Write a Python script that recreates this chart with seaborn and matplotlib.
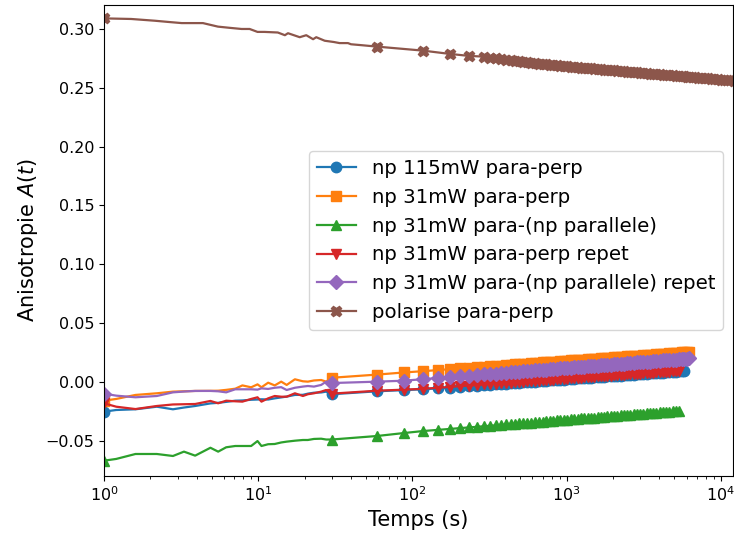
import matplotlib
matplotlib.use("Agg")
import matplotlib.pyplot as plt
import seaborn as sns

# time grid (s) shared by the "np" runs: 25 early points, then the marked points
t_np = [1, 1.2, 1.6, 2.2, 2.8, 3.3, 3.9, 4.9, 5.5, 6.2, 7.1, 7.9, 9.0, 9.9, 10.5,
        11.6, 12.8, 14.1, 15.3, 17.3, 19.5, 21, 23, 25.6, 27.6,
        30, 59, 88, 117, 146, 175, 204, 233, 262, 291,
        320, 349, 378, 407, 436, 465, 494, 523,
        556, 590, 624, 660, 699, 740, 779, 820,
        864, 910, 959, 1010, 1064, 1120, 1178, 1240,
        1303, 1370, 1438, 1510, 1588, 1670, 1753, 1840,
        1933, 2030, 2132, 2240, 2352, 2470, 2592, 2720,
        2857, 3000, 3146, 3300, 3466, 3640, 3821, 4010,
        4210, 4420, 4639, 4870, 5109, 5360, 5576, 5800,
        6026, 6260]

# time grid of the polarised run
t_pol = [1, 1.5, 2.14, 2.6, 3.19, 4.38, 5.48, 6.5, 7.8, 8.8, 9.9, 11, 13.4, 14.9,
         15.6, 18.6, 20.5, 22.7, 23.8, 27, 31, 33.7, 38.2, 40, 47,
         59, 117, 175, 233, 291,
         320, 349, 378, 407, 436, 465, 494, 523,
         556, 590, 624, 660, 699, 740, 779, 820,
         864, 910, 959, 1010, 1064, 1120, 1178, 1240,
         1303, 1370, 1438, 1510, 1588, 1670, 1753, 1840,
         1933, 2030, 2132, 2240, 2352, 2470, 2592, 2720,
         2857, 3000, 3146, 3300, 3466, 3640, 3821, 4010,
         4210, 4420, 4639, 4870, 5109, 5360, 5576, 5800,
         6026, 6260, 6500, 6800, 7150, 7500, 7870, 8260, 8660, 9080, 9530,
         10000, 10480, 11000, 11530, 12100, 12700]
n_early = 25

np115_pp = [-0.0253, -0.0239, -0.0233, -0.0211, -0.0233, -0.0218, -0.0205, -0.0183,
            -0.0178, -0.0170, -0.0160, -0.0158, -0.0152, -0.0150, -0.0148, -0.0150,
            -0.0140, -0.0132, -0.0125, -0.0111, -0.0110, -0.0100, -0.0092, -0.0090,
            -0.0083,
            -0.0105, -0.0080, -0.0070, -0.0063, -0.0055, -0.0048, -0.0041, -0.0036,
            -0.0032, -0.0027,
            -0.0023, -0.0020, -0.0017, -0.0014, -0.0011, -0.0009, -0.0006, -0.0004,
            -0.0001, 0.0001, 0.0003, 0.0005, 0.0008, 0.0010, 0.0012, 0.0014,
            0.0016, 0.0018, 0.0020, 0.0022, 0.0025, 0.0027, 0.0029, 0.0031,
            0.0033, 0.0035, 0.0037, 0.0039, 0.0041, 0.0043, 0.0045, 0.0047,
            0.0048, 0.0050, 0.0052, 0.0054, 0.0056, 0.0058, 0.0060, 0.0062,
            0.0064, 0.0066, 0.0068, 0.0070, 0.0072, 0.0074, 0.0076, 0.0078,
            0.0079, 0.0081, 0.0083, 0.0085, 0.0087, 0.0089, 0.0091, 0.0093]

np31_pp = [-0.0160, -0.0145, -0.0111, -0.0097, -0.0083, -0.0080, -0.0077, -0.0076,
           -0.0075, -0.0068, -0.0058, -0.0030, -0.0046, -0.0021, -0.0046, -0.0007,
           -0.0030, 0.0002, -0.0026, 0.0022, 0.0005, 0.0002, 0.0012, 0.0016, 0.0002,
           0.0035, 0.0062, 0.0080, 0.0091, 0.0100, 0.0108, 0.0114, 0.0119, 0.0124,
           0.0129,
           0.0132, 0.0136, 0.0139, 0.0142, 0.0145, 0.0148, 0.0150, 0.0153,
           0.0155, 0.0157, 0.0160, 0.0162, 0.0165, 0.0167, 0.0169, 0.0171,
           0.0173, 0.0175, 0.0177, 0.0179, 0.0182, 0.0184, 0.0186, 0.0188,
           0.0190, 0.0192, 0.0194, 0.0196, 0.0198, 0.0200, 0.0202, 0.0204,
           0.0206, 0.0208, 0.0210, 0.0212, 0.0214, 0.0216, 0.0218, 0.0220,
           0.0222, 0.0224, 0.0226, 0.0228, 0.0230, 0.0232, 0.0234, 0.0236,
           0.0238, 0.0240, 0.0242, 0.0244, 0.0246, 0.0248, 0.0250, 0.0251,
           0.0253, 0.0254]

np31_par = [-0.0670, -0.0655, -0.0613, -0.0613, -0.0630, -0.0593, -0.0627, -0.0560,
            -0.0593, -0.0556, -0.0545, -0.0545, -0.0545, -0.0503, -0.0545, -0.0530,
            -0.0528, -0.0515, -0.0508, -0.0500, -0.0494, -0.0494, -0.0485, -0.0483,
            -0.0490,
            -0.0490, -0.0460, -0.0435, -0.0418, -0.0408, -0.0400, -0.0393, -0.0387,
            -0.0382, -0.0377,
            -0.0373, -0.0369, -0.0365, -0.0362, -0.0359, -0.0356, -0.0353, -0.0351,
            -0.0348, -0.0346, -0.0343, -0.0341, -0.0338, -0.0335, -0.0333, -0.0331,
            -0.0328, -0.0326, -0.0323, -0.0321, -0.0318, -0.0316, -0.0313, -0.0311,
            -0.0308, -0.0306, -0.0304, -0.0303, -0.0300, -0.0298, -0.0296, -0.0294,
            -0.0292, -0.0290, -0.0287, -0.0285, -0.0282, -0.0280, -0.0278, -0.0277,
            -0.0275, -0.0273, -0.0270, -0.0268, -0.0266, -0.0264, -0.0261, -0.0259,
            -0.0257, -0.0255, -0.0252, -0.0250, -0.0249, -0.0248]

np31_pp_rep = [-0.0182, -0.0211, -0.0231, -0.0205, -0.0192, -0.0190, -0.0188, -0.0162,
               -0.0182, -0.0160, -0.0165, -0.0168, -0.0145, -0.0131, -0.0168, -0.0140,
               -0.0120, -0.0126, -0.0126, -0.0097, -0.0120, -0.0105, -0.0097, -0.0083,
               -0.0069,
               -0.0100, -0.0075, -0.0066, -0.0059, -0.0050, -0.0043, -0.0036, -0.0031,
               -0.0027, -0.0022,
               -0.0018, -0.0015, -0.0012, -0.0009, -0.0006, -0.0004, -0.0001, 0.0001,
               0.0004, 0.0006, 0.0008, 0.0010, 0.0013, 0.0015, 0.0017, 0.0019,
               0.0021, 0.0023, 0.0025, 0.0027, 0.0030, 0.0032, 0.0034, 0.0036,
               0.0038, 0.0040, 0.0042, 0.0044, 0.0046, 0.0048, 0.0050, 0.0052,
               0.0053, 0.0055, 0.0057, 0.0059, 0.0061, 0.0063, 0.0065, 0.0067,
               0.0069, 0.0071, 0.0073, 0.0075, 0.0077, 0.0079, 0.0081, 0.0083,
               0.0084, 0.0086, 0.0088, 0.0090, 0.0092, 0.0094]

np31_par_rep = [-0.0100, -0.0117, -0.0131, -0.0120, -0.0089, -0.0082, -0.0077, -0.0077,
                -0.0080, -0.0089, -0.0063, -0.0063, -0.0063, -0.0066, -0.0055, -0.0060,
                -0.0050, -0.0045, -0.0069, -0.0050, -0.0040, -0.0035, -0.0040, -0.0026,
                0.0002,
                -0.0010, 0.0002, 0.0010, 0.0023, 0.0033, 0.0041, 0.0048, 0.0053, 0.0059,
                0.0063,
                0.0067, 0.0071, 0.0075, 0.0078, 0.0081, 0.0084, 0.0087, 0.0089,
                0.0092, 0.0095, 0.0098, 0.0100, 0.0103, 0.0105, 0.0107, 0.0109,
                0.0112, 0.0114, 0.0117, 0.0119, 0.0121, 0.0123, 0.0126, 0.0128,
                0.0130, 0.0132, 0.0134, 0.0136, 0.0139, 0.0141, 0.0143, 0.0145,
                0.0147, 0.0149, 0.0152, 0.0154, 0.0156, 0.0158, 0.0160, 0.0162,
                0.0165, 0.0167, 0.0169, 0.0171, 0.0173, 0.0175, 0.0177, 0.0179,
                0.0182, 0.0184, 0.0186, 0.0188, 0.0190, 0.0192, 0.0194, 0.0196,
                0.0198, 0.0199]

pol_pp = [0.3090, 0.3085, 0.3070, 0.3060, 0.3050, 0.3050, 0.3020, 0.3010, 0.3000,
          0.3000, 0.2975, 0.2975, 0.2970, 0.2947, 0.2964, 0.2930, 0.2947, 0.2913,
          0.2930, 0.2900, 0.2889, 0.2880, 0.2880, 0.2870, 0.2862,
          0.2850, 0.2816, 0.2788, 0.2771, 0.2765,
          0.2757, 0.2750, 0.2744, 0.2738, 0.2733, 0.2728, 0.2724, 0.2720,
          0.2716, 0.2712, 0.2708, 0.2705, 0.2701, 0.2698, 0.2695, 0.2692,
          0.2690, 0.2687, 0.2685, 0.2682, 0.2680, 0.2677, 0.2675, 0.2672,
          0.2670, 0.2667, 0.2665, 0.2662, 0.2660, 0.2657, 0.2655, 0.2652,
          0.2650, 0.2647, 0.2645, 0.2643, 0.2640, 0.2638, 0.2636, 0.2633,
          0.2631, 0.2628, 0.2626, 0.2624, 0.2621, 0.2619, 0.2617, 0.2614,
          0.2612, 0.2609, 0.2607, 0.2605, 0.2602, 0.2600, 0.2598, 0.2596,
          0.2594, 0.2592, 0.2590, 0.2588, 0.2586, 0.2583, 0.2581, 0.2579,
          0.2577, 0.2574, 0.2572, 0.2570, 0.2568, 0.2565, 0.2563, 0.2560, 0.2558]

labels = ["np 115mW para-perp", "np 31mW para-perp", "np 31mW para-(np parallele)",
          "np 31mW para-perp repet", "np 31mW para-(np parallele) repet",
          "polarise para-perp"]
markers = ["o", "s", "^", "v", "D", "X"]
colors = sns.color_palette("tab10", 6)

series = [(t_np, np115_pp), (t_np, np31_pp), (t_np, np31_par),
          (t_np, np31_pp_rep), (t_np, np31_par_rep), (t_pol, pol_pp)]

fig, ax = plt.subplots(figsize=(7.34, 5.35), dpi=100)
fig.subplots_adjust(left=0.1417, right=0.9986, top=0.9907, bottom=0.1103)

for (t, y), lab, m, c in zip(series, labels, markers, colors):
    n = len(y)
    every = [0] + list(range(n_early, n))
    sns.lineplot(x=t[:n], y=y, ax=ax, label=lab, color=c, marker=m,
                 markevery=every, markersize=7.5, markeredgecolor=c,
                 markeredgewidth=1.0, linewidth=1.6, sort=False)

ax.set_xscale("log")
ax.set_xlim(1, 12000)
ax.set_ylim(-0.080, 0.3204)
ax.set_xlabel("Temps (s)", fontsize=15)
ax.set_ylabel("Anisotropie $A(t)$", fontsize=15)
ax.tick_params(labelsize=11.5)
ax.legend(loc="center right", fontsize=14.2)

fig.savefig("out.png", dpi=100)
